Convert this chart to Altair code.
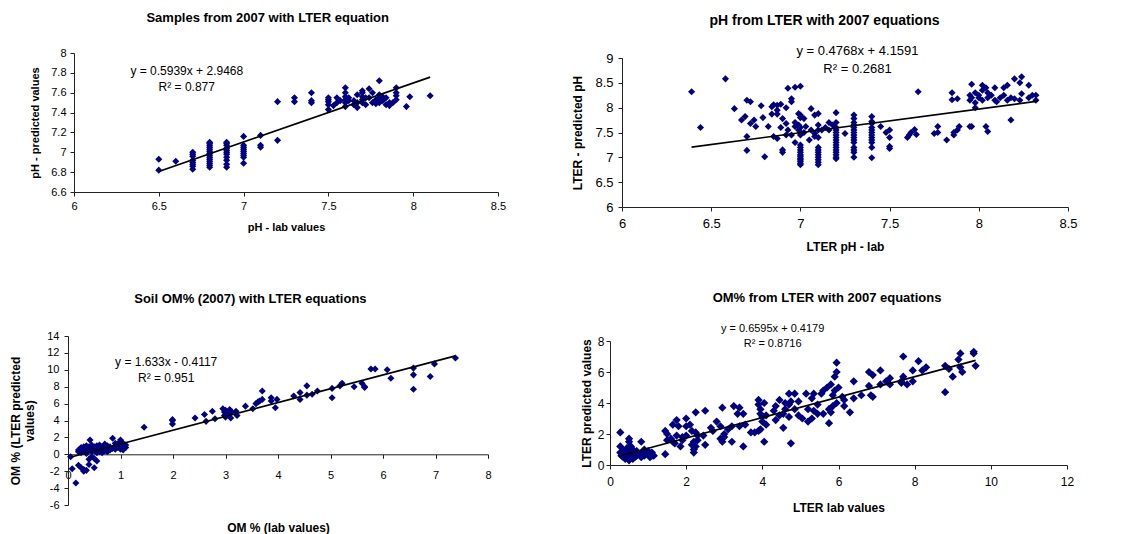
import altair as alt
import pandas as pd

FONT = "Liberation Sans"
NAVY = "#000080"

# ---------------- Panel 1: Samples from 2007 with LTER equation ----------------
p1_lab = [
    6.5, 6.5, 6.6,
    6.7, 6.7, 6.7, 6.7, 6.7, 6.7, 6.7, 6.7,
    6.8, 6.8, 6.8, 6.8, 6.8, 6.8, 6.8, 6.8, 6.8, 6.8, 6.8, 6.8, 6.8, 6.8,
    6.9, 6.9, 6.9, 6.9, 6.9, 6.9, 6.9, 6.9, 6.9, 6.9, 6.9,
    7.0, 7.0, 7.0, 7.0, 7.0, 7.0, 7.0, 7.0, 7.0,
    7.1, 7.1, 7.1,
    7.2, 7.2, 7.3, 7.3, 7.4, 7.4, 7.4,
    7.5, 7.5, 7.5, 7.5, 7.5,
    7.53, 7.55, 7.55, 7.57, 7.6, 7.6, 7.6, 7.6, 7.6, 7.6, 7.62, 7.62, 7.65, 7.65,
    7.67, 7.67, 7.67, 7.7, 7.7, 7.7, 7.7, 7.7, 7.72, 7.72, 7.74, 7.74, 7.76, 7.76,
    7.78, 7.78, 7.8, 7.8, 7.8, 7.8, 7.82, 7.82, 7.84, 7.84, 7.86, 7.86, 7.88,
    7.9, 7.9, 7.9, 7.9, 7.96, 7.98, 8.1,
]
p1_pred = [
    6.93, 6.82, 6.91,
    6.83, 6.86, 6.88, 6.9, 6.92, 6.96, 6.98, 7.0,
    6.85, 6.87, 6.89, 6.91, 6.93, 6.95, 6.97, 6.99, 7.01, 7.03, 7.05, 7.07, 7.09, 7.1,
    6.85, 6.88, 6.92, 6.95, 6.98, 7.0, 7.02, 7.04, 7.07, 7.09, 7.1,
    6.89, 6.95, 6.97, 6.99, 7.01, 7.03, 7.05, 7.07, 7.16,
    7.05, 7.07, 7.17,
    7.12, 7.51, 7.51, 7.55, 7.5, 7.52, 7.6,
    7.43, 7.48, 7.51, 7.53, 7.55,
    7.47, 7.5, 7.55, 7.52, 7.46, 7.5, 7.53, 7.56, 7.6, 7.65, 7.52, 7.55, 7.48, 7.52,
    7.45, 7.5, 7.58, 7.5, 7.53, 7.56, 7.6, 7.62, 7.48, 7.55, 7.64, 7.55, 7.5, 7.6,
    7.49, 7.53, 7.5, 7.55, 7.58, 7.72, 7.52, 7.56, 7.48, 7.55, 7.47, 7.5, 7.5,
    7.53, 7.57, 7.6, 7.65, 7.46, 7.56, 7.57,
]
p1_xticks = [6, 6.5, 7, 7.5, 8, 8.5]
p1_yticks = [6.6, 6.8, 7, 7.2, 7.4, 7.6, 7.8, 8]
p1_fit = (0.5939, 2.9468, 6.5, 8.1)  # slope, intercept, x-start, x-end
p1_text = ["y = 0.5939x + 2.9468", "R² = 0.877"]
p1_text_x = [6.665, 6.665]
p1_text_y = [7.82, 7.656]

# ---------------- Panel 2: pH from LTER with 2007 equations ----------------
p2_lab = [
    6.39, 6.44, 6.58, 6.63, 6.67, 6.69, 6.70, 6.70, 6.70, 6.72, 6.72, 6.74, 6.75,
    6.78, 6.79, 6.80, 6.82, 6.84, 6.84, 6.85, 6.85, 6.87, 6.87, 6.87, 6.87,
    6.89, 6.89, 6.90, 6.90, 6.90, 6.92, 6.92, 6.92, 6.93, 6.93, 6.95, 6.95, 6.95,
    6.97, 6.97, 6.97, 6.97, 6.99, 6.99, 6.99,
    7.0, 7.0, 7.0, 7.0, 7.0, 7.0, 7.0, 7.0, 7.0, 7.0, 7.0, 7.0, 7.0, 7.0, 7.0, 7.0, 7.0,
    7.02, 7.02, 7.03, 7.05, 7.06, 7.06, 7.08, 7.08, 7.08,
    7.1, 7.1, 7.1, 7.1, 7.1, 7.1, 7.1, 7.1, 7.1, 7.1, 7.1, 7.1,
    7.12, 7.14, 7.16, 7.16, 7.18,
    7.2, 7.2, 7.2, 7.2, 7.2, 7.2, 7.2, 7.2, 7.2, 7.2, 7.2, 7.2, 7.2, 7.2, 7.2, 7.2,
    7.25,
    7.3, 7.3, 7.3, 7.3, 7.3, 7.3, 7.3, 7.3, 7.3, 7.3, 7.3, 7.3, 7.3, 7.3, 7.3,
    7.4, 7.4, 7.4, 7.4, 7.4, 7.4, 7.4, 7.4, 7.4, 7.4, 7.4, 7.4,
    7.45, 7.48, 7.5, 7.5, 7.5, 7.5, 7.6, 7.61, 7.62, 7.64, 7.65, 7.66,
    7.75, 7.77, 7.77, 7.82, 7.85, 7.85, 7.86, 7.86, 7.88, 7.88, 7.89,
    7.95, 7.95, 7.95, 7.96, 7.96, 7.96, 7.98, 7.98, 7.98, 8.0, 8.0,
    8.02, 8.02, 8.02, 8.04, 8.04, 8.05, 8.05, 8.05, 8.07, 8.09, 8.09, 8.1, 8.12,
    8.14, 8.14, 8.16, 8.16, 8.18, 8.18, 8.2, 8.2, 8.23, 8.23, 8.24, 8.24,
    8.28, 8.28, 8.3, 8.32, 8.32,
]
p2_pred = [
    8.32, 7.6, 8.58, 7.98, 7.75, 7.82, 8.15, 7.42, 7.14, 8.12, 7.68, 7.75, 7.62,
    8.04, 7.8, 7.01, 7.62, 8.02, 7.87, 8.06, 7.42, 7.95, 8.05, 7.87, 7.38,
    8.07, 7.6, 7.15, 7.1, 7.78, 7.45, 7.68, 8.0, 7.55, 8.39, 8.12, 8.18, 7.45,
    7.3, 8.41, 7.62, 7.7, 7.88, 7.55, 7.65,
    8.43, 7.85, 7.8, 7.6, 7.5, 7.45, 6.85, 6.88, 6.92, 6.95, 6.98, 7.02, 7.05, 7.1, 7.15, 7.2, 7.25,
    7.78, 7.5, 7.62, 7.35, 7.98, 7.55, 7.85, 7.48, 7.42,
    7.88, 7.65, 7.4, 7.55, 6.85, 6.9, 6.95, 7.0, 7.05, 7.1, 7.15, 7.2,
    7.55, 7.6, 7.7, 7.55, 7.65,
    7.9, 7.7, 7.6, 7.55, 6.97, 7.0, 7.05, 7.1, 7.15, 7.2, 7.25, 7.3, 7.35, 7.4, 7.45, 7.5,
    7.48,
    7.0, 7.1, 7.15, 7.2, 7.3, 7.35, 7.4, 7.45, 7.5, 7.55, 7.6, 7.65, 7.7, 7.78, 7.85,
    6.99, 7.2, 7.3, 7.35, 7.4, 7.45, 7.5, 7.55, 7.6, 7.68, 7.72, 7.82,
    7.62, 7.5, 7.55, 7.4, 7.22, 7.18, 7.4, 7.45, 7.5, 7.56, 7.46, 8.32,
    7.48, 7.62, 7.5, 7.35, 8.3, 8.16, 7.45, 7.5, 8.18, 7.55, 7.62,
    8.25, 8.15, 7.62, 8.47, 8.2, 7.62, 8.3, 8.1, 8.0, 8.2, 8.25,
    8.45, 8.15, 8.35, 8.4, 7.62, 8.3, 7.52, 8.2, 8.25, 8.4, 8.15, 8.12, 8.2,
    8.25, 8.4, 8.45, 8.15, 8.2, 7.75, 8.58, 8.18, 8.5, 8.15, 8.62, 8.28,
    8.45, 8.2, 8.25, 8.25, 8.15,
]
p2_xticks = [6, 6.5, 7, 7.5, 8, 8.5]
p2_yticks = [6, 6.5, 7, 7.5, 8, 8.5, 9]
p2_fit = (0.4768, 4.1591, 6.39, 8.33)
p2_text = ["y = 0.4768x + 4.1591", "R² = 0.2681"]
p2_text_x = [7.32, 7.32]
p2_text_y = [9.135, 8.78]

# ---------------- Panel 3: Soil OM% (2007) with LTER equations ----------------
p3_lab = [
    0.05, 0.08, 0.15, 0.2, 0.2, 0.2, 0.25, 0.25, 0.25, 0.25,
    0.3, 0.3, 0.3, 0.3, 0.35, 0.35, 0.35, 0.35, 0.4, 0.4, 0.4, 0.4, 0.42,
    0.45, 0.45, 0.45, 0.45, 0.5, 0.5, 0.5, 0.5, 0.55, 0.55, 0.55, 0.55,
    0.6, 0.6, 0.6, 0.65, 0.65, 0.65, 0.7, 0.7, 0.7, 0.75, 0.75, 0.75,
    0.8, 0.8, 0.85, 0.85, 0.9, 0.9, 0.9, 0.95, 0.95,
    1.0, 1.0, 1.0, 1.0, 1.05, 1.05, 1.05, 1.1, 1.1,
    1.45, 1.99, 1.99, 1.99, 2.42, 2.6, 2.63, 2.75, 2.8, 2.95, 2.98, 2.98,
    3.0, 3.0, 3.05, 3.08, 3.08, 3.1, 3.12, 3.2, 3.22, 3.38, 3.52, 3.58, 3.62, 3.65,
    3.7, 3.7, 3.87, 3.87, 3.95, 3.98, 4.3, 4.42, 4.42, 4.55, 4.55, 4.65, 4.75,
    5.03, 5.03, 5.18, 5.22, 5.45, 5.6, 5.65, 5.65, 5.77, 5.85, 6.08, 6.15,
    6.58, 6.58, 6.58, 6.9, 6.98, 7.38,
]
p3_pred = [
    -0.3, -1.7, -3.4, -1.3, 0.3, 0.5, -1.6, 0.2, 0.6, 0.8,
    -1.8, -2.0, 0.4, 0.9, -1.9, 0.1, 0.7, 1.0, -0.6, -1.2, 0.5, 0.9, 1.7,
    -0.3, 0.3, 0.8, 1.1, -0.5, -1.6, 0.4, 0.9, -0.8, 0.2, 0.6, 1.0,
    0.3, 0.7, 1.1, 0.2, 0.5, 0.9, 0.4, 0.8, 1.2, 0.3, 0.6, 1.0,
    0.5, 0.9, 1.9, 0.7, 0.6, 1.0, 1.3, 0.8, 1.2,
    0.6, 1.0, 1.4, 1.7, 0.5, 0.9, 1.3, 0.8, 1.1,
    3.2, 3.6, 4.0, 4.1, 4.3, 4.7, 3.9, 5.1, 4.2, 5.4, 4.6, 5.0,
    4.4, 5.2, 4.7, 5.3, 4.9, 4.3, 5.0, 5.1, 4.6, 5.7, 5.4, 6.0, 6.2, 6.3,
    7.5, 6.5, 6.7, 6.3, 5.5, 6.5, 6.9, 7.3, 6.5, 8.1, 7.0, 7.1, 7.5,
    7.8, 6.7, 8.1, 8.4, 8.0, 8.4, 7.9, 8.0, 10.1, 10.1, 10.0, 9.0,
    10.2, 9.4, 7.7, 9.2, 10.7, 11.4,
]
p3_xticks = [0, 1, 2, 3, 4, 5, 6, 7, 8]
p3_yticks = [-6, -4, -2, 0, 2, 4, 6, 8, 10, 12, 14]
p3_fit = (1.633, -0.4117, 0.06, 7.38)
p3_text = ["y = 1.633x - 0.4117", "R² = 0.951"]
p3_text_x = [1.87, 1.87]
p3_text_y = [10.96, 8.99]

# ---------------- Panel 4: OM% from LTER with 2007 equations ----------------
p4_lab = [
    0.27, 0.27, 0.27, 0.3, 0.35, 0.35, 0.4, 0.4, 0.45, 0.45,
    0.5, 0.5, 0.5, 0.5, 0.55, 0.55, 0.55, 0.6, 0.6, 0.6, 0.65, 0.65, 0.7, 0.7, 0.75,
    0.82, 0.82, 0.85, 0.9, 0.9, 1.0, 1.0, 1.05, 1.1, 1.1, 1.15,
    1.45, 1.45, 1.5, 1.5, 1.6, 1.65, 1.65, 1.7, 1.75, 1.75, 1.8, 1.85, 1.9, 1.9,
    2.0, 2.0, 2.0, 2.1, 2.15, 2.15, 2.2, 2.2, 2.2, 2.25, 2.25, 2.25, 2.3, 2.3,
    2.45, 2.5, 2.5, 2.65, 2.7, 2.8, 2.9, 2.9, 2.95, 2.95, 3.0, 3.0, 3.1, 3.2, 3.2,
    3.25, 3.35, 3.4, 3.4, 3.5, 3.5, 3.55, 3.7, 3.8, 3.9, 3.9, 3.9, 3.95, 3.95, 3.95,
    4.0, 4.0, 4.05, 4.05, 4.1, 4.1, 4.3, 4.35, 4.35, 4.45, 4.45, 4.55, 4.55,
    4.6, 4.6, 4.7, 4.7, 4.7, 4.75, 4.75, 4.85, 4.85, 4.95, 4.95, 5.05, 5.15,
    5.2, 5.2, 5.3, 5.3, 5.35, 5.35, 5.45, 5.45, 5.55, 5.6, 5.6, 5.7, 5.75, 5.75,
    5.8, 5.8, 5.85, 5.85, 5.9, 5.9, 5.95, 5.95, 5.95, 6.0, 6.1, 6.15, 6.15, 6.3,
    6.4, 6.4, 6.6, 6.8, 6.8, 6.85, 6.9, 6.9, 7.1, 7.1, 7.25, 7.35, 7.35,
    7.65, 7.65, 7.7, 7.7, 7.8, 7.95, 7.95, 8.1, 8.2, 8.3, 8.8, 8.8, 8.9, 9.0,
    9.15, 9.2, 9.2, 9.25, 9.55, 9.55, 9.6,
]
p4_pred = [
    2.1, 1.2, 0.8, 0.6, 0.9, 0.5, 0.7, 0.4, 1.1, 0.6,
    1.5, 1.7, 0.3, 0.8, 1.2, 0.5, 0.9, 0.7, 0.4, 1.0, 0.5, 0.8, 0.6, 0.9, 0.7,
    1.5, 0.5, 0.8, 0.6, 1.0, 0.7, 0.9, 0.5, 0.8, 0.6, 0.6,
    2.2, 0.7, 1.6, 2.0, 1.7, 2.6, 1.5, 1.4, 2.9, 1.9, 2.5, 1.2, 1.8, 1.6,
    2.5, 3.0, 1.9, 2.6, 1.3, 2.2, 0.8, 1.5, 1.0, 1.2, 3.4, 2.1, 1.6, 1.9,
    1.9, 3.5, 1.3, 2.4, 2.2, 2.8, 2.5, 1.7, 3.7, 1.5, 2.0, 1.8, 2.3, 1.5, 2.5,
    3.8, 3.3, 3.7, 2.5, 3.3, 1.2, 2.6, 2.1, 2.1, 4.2, 2.2, 3.9, 2.3, 3.3, 3.6,
    2.8, 3.1, 1.5, 4.0, 3.2, 2.6, 3.5, 3.8, 2.9, 4.2, 3.2, 2.4, 3.3,
    3.6, 4.0, 4.6, 3.9, 3.1, 1.4, 4.1, 4.6, 3.6, 3.2, 4.1, 3.0, 4.6,
    3.6, 2.8, 4.3, 3.0, 4.6, 3.5, 3.9, 3.3, 4.6, 4.8, 3.3, 5.0, 2.7, 3.6,
    3.4, 5.2, 3.8, 4.5, 5.7, 4.8, 6.6, 6.0, 4.0, 5.0, 4.4, 4.2, 3.8, 3.4,
    5.4, 4.3, 4.5, 5.1, 6.0, 4.5, 5.8, 4.4, 6.1, 5.2, 5.4, 5.2, 5.6,
    5.4, 5.3, 7.0, 5.7, 5.2, 6.1, 5.4, 6.7, 6.1, 6.3, 6.4, 4.7, 6.2, 5.7,
    6.8, 7.2, 6.3, 6.0, 7.3, 7.2, 6.4,
]
p4_xticks = [0, 2, 4, 6, 8, 10, 12]
p4_yticks = [0, 2, 4, 6, 8]
p4_fit = (0.6595, 0.4179, 0.27, 9.6)
p4_text = ["y = 0.6595x + 0.4179", "R² = 0.8716"]
p4_text_x = [4.27, 4.27]
p4_text_y = [8.79, 7.79]

for a, b in [(p1_lab, p1_pred), (p2_lab, p2_pred), (p3_lab, p3_pred), (p4_lab, p4_pred)]:
    assert len(a) == len(b), (len(a), len(b))


def panel(lab, pred, fit, texts, tx, ty, xticks, yticks, w, h, xl, yt, title, xtitle, ytitle,
          msize, lab_fs, ttl_fs, axt_fs, eq_fs, title_offset,
          xlab_pad, ylab_pad, xt_pad, yt_pad, x_axis_extra=None):
    # w, h: panel group size; xl, yt: left / top inset of the plotting range inside the group
    pts = pd.DataFrame({"lab": lab, "pred": pred})
    slope, icpt, x0, x1 = fit
    line_df = pd.DataFrame({"lab": [x0, x1], "pred": [slope * x0 + icpt, slope * x1 + icpt]})
    txt_df = pd.DataFrame({"lab": tx, "pred": ty, "t": texts})

    common = dict(
        labelFont=FONT, labelFontSize=lab_fs, labelColor="black",
        titleFont=FONT, titleFontSize=axt_fs, titleFontWeight="bold", titleColor="black",
        domainColor="#222222", tickColor="#222222", tickSize=4, grid=False,
        labelFlush=False, labelOverlap=False, labelExpr="datum.value + ''",
    )
    xkw = dict(common, values=xticks, title=xtitle, labelPadding=xlab_pad, titlePadding=xt_pad)
    if xl:
        xkw["titleX"] = (xl + w) / 2
    if x_axis_extra:
        xkw.update(x_axis_extra)
    ykw = dict(common, values=yticks, title=ytitle, labelPadding=ylab_pad, titlePadding=yt_pad)
    if xl:
        ykw["offset"] = -xl

    xenc = alt.X("lab:Q", scale=alt.Scale(domain=[xticks[0], xticks[-1]], nice=False, zero=False,
                                          range=[xl, w]),
                 axis=alt.Axis(**xkw))
    yenc = alt.Y("pred:Q", scale=alt.Scale(domain=[yticks[0], yticks[-1]], nice=False, zero=False,
                                           range=[h, yt]),
                 axis=alt.Axis(**ykw))

    p = alt.Chart(pts).mark_point(shape="diamond", filled=True, color=NAVY, opacity=1,
                                  size=msize).encode(x=xenc, y=yenc)
    l = alt.Chart(line_df).mark_line(color="black", strokeWidth=1.7).encode(x=xenc, y=yenc)
    t = alt.Chart(txt_df).mark_text(font=FONT, fontSize=eq_fs, color="black").encode(
        x=xenc, y=yenc, text="t:N")
    return alt.layer(p, l, t).properties(
        width=w, height=h,
        title=alt.TitleParams(title, font=FONT, fontSize=ttl_fs, fontWeight="bold",
                              color="black", anchor="middle", frame="bounds",
                              offset=title_offset),
    )


H3 = 169
zero_pos = H3 * p3_yticks[-1] / (p3_yticks[-1] - p3_yticks[0])
c1 = panel(p1_lab, p1_pred, p1_fit, p1_text, p1_text_x, p1_text_y, p1_xticks, p1_yticks,
           430, 139, 6, 0, "Samples from 2007 with LTER equation", "pH - lab values",
           "pH - predicted values", 50, 11, 13, 11, 12, 22, 4, 4, 10, 10)
c2 = panel(p2_lab, p2_pred, p2_fit, p2_text, p2_text_x, p2_text_y, p2_xticks, p2_yticks,
           458, 154, 12, 5, "pH from LTER with 2007 equations", "LTER pH - lab",
           "LTER - predicted pH", 50, 13, 14, 12, 13, 17, 6, 5, 11, 10)
c3 = panel(p3_lab, p3_pred, p3_fit, p3_text, p3_text_x, p3_text_y, p3_xticks, p3_yticks,
           420, H3, 0, 0, "Soil OM% (2007) with LTER equations", "OM % (lab values)",
           ["OM % (LTER predicted", "values)"], 50, 11, 13, 12, 12, 24, 11, 5, 10, 10,
           x_axis_extra=dict(offset=-(H3 - zero_pos), titleY=73, titleBaseline="middle"))
c4 = panel(p4_lab, p4_pred, p4_fit, p4_text, p4_text_x, p4_text_y, p4_xticks, p4_yticks,
           457, 129, 0, 5, "OM% from LTER with 2007 equations", "LTER lab values",
           "LTER predicted values", 68, 12, 13, 12, 11, 18, 7, 2, 15, 4)

chart = alt.concat(
    c1, c2, c3, c4, columns=2, bounds="flush",
    align="each",
    spacing={"row": 129, "column": 112},
).properties(
    padding={"left": 1, "top": 4, "right": 5, "bottom": 2},
    background="white",
).configure_view(strokeWidth=0)

chart.save("out.html", embed_options={"renderer": "svg", "actions": False})
